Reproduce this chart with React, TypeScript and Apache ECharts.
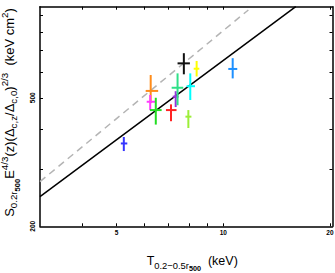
import React, { useEffect, useRef } from "react";
import * as echarts from "echarts";

// Cluster measurements: temperature (keV) and scaled entropy (keV cm^2)
const clusterColors = [
  "#3535ff", "#ff8c1a", "#ff3cff", "#22dd22", "#ff2424", "#9933dd",
  "#30e088", "#111111", "#ffff00", "#00ffff", "#9cee38", "#1e90ff",
];
const tempKeV = [5.24, 6.24, 6.22, 6.45, 7.12, 7.34, 7.43, 7.74, 8.41, 8.07, 7.97, 10.63];
const tempLow = [5.14, 6.04, 6.08, 6.21, 6.89, 7.2, 7.15, 7.43, 8.25, 7.88, 7.82, 10.33];
const tempHigh = [5.36, 6.55, 6.44, 6.7, 7.38, 7.48, 7.71, 8.05, 8.56, 8.32, 8.13, 10.95];
const entropy = [361, 525, 486, 458, 458, 504, 537, 639, 615, 543, 437, 614];
const entropyLow = [342, 481, 458, 413, 423, 468, 474, 591, 582, 492, 403, 574];
const entropyHigh = [378, 588, 510, 500, 477, 524, 595, 687, 650, 595, 458, 663];

// Best fit (solid) and self-similar (dashed) relations
const fitT = [3.04, 16.01];
const fitS = [247, 957];
const selfSimT = [3.04, 11.77];
const selfSimS = [275, 935];

// Axis ticks / labels
const xTickValues = [4, 5, 6, 7, 8, 9, 10, 20];
const xLabelValues = [5, 10, 20];
const yTickValues = [300, 400, 500, 600, 700, 800, 900];
const yLabelValues = [200, 500];

const FONT = "Liberation Sans, Arial, Helvetica, sans-serif";

function makeRich(main: number) {
  const s = main * 0.75;
  const ss = main * 0.58;
  return {
    m: { fontSize: main, fontFamily: FONT, color: "#000" },
    s: { fontSize: s, fontFamily: FONT, color: "#000", padding: [main * 0.7, 0, 0, 0] },
    ss: { fontSize: ss, fontFamily: FONT, color: "#000", fontWeight: "bold", padding: [main * 1.2, 0, 0, 0] },
    sup: { fontSize: s, fontFamily: FONT, color: "#000", padding: [0, 0, main * 0.8, 0] },
  };
}

export default function App() {
  const ref = useRef<HTMLDivElement>(null);

  useEffect(() => {
    if (!ref.current) return;
    const chart = echarts.init(ref.current, undefined, { renderer: "svg" });

    const errData = tempKeV.map((t, i) => [
      t, entropy[i], tempLow[i], tempHigh[i], entropyLow[i], entropyHigh[i],
    ]);

    const axisLine = { show: true, lineStyle: { color: "#000", width: 1.5 } };
    const tick = (vals: number[]) => ({
      show: true, inside: true, length: 3, customValues: vals,
      lineStyle: { color: "#000", width: 1 },
    });

    const option: any = {
      animation: false,
      grid: { left: 40, right: 2.5, top: 6.7, bottom: 46.7, containLabel: false, outerBoundsMode: "none" },
      xAxis: [
        {
          type: "log", min: 3.04, max: 20.33, logBase: 10,
          axisLine, axisTick: tick(xTickValues), splitLine: { show: false }, minorTick: { show: false },
          axisLabel: {
            customValues: xLabelValues, fontSize: 6.5, fontWeight: "bold", fontFamily: FONT,
            color: "#000", margin: 3,
          },
          name: "{m|T}{s|0.2−0.5r}{ss|500}{m|  (keV)}",
          nameLocation: "middle", nameGap: 24,
          nameTextStyle: { rich: makeRich(12.5), padding: [0, 0, 0, 12] },
        },
        {
          type: "log", min: 3.04, max: 20.33, logBase: 10, position: "top",
          axisLine, axisTick: tick(xTickValues), splitLine: { show: false },
          axisLabel: { show: false },
        },
      ],
      yAxis: [
        {
          type: "log", min: 200, max: 957, logBase: 10,
          axisLine, axisTick: tick(yTickValues), splitLine: { show: false }, minorTick: { show: false },
          axisLabel: {
            customValues: yLabelValues, fontSize: 6.5, fontWeight: "bold", fontFamily: FONT,
            color: "#000", margin: 4, rotate: 90,
          },
          name:
            "{m|S}{s|0.2r}{ss|500}{m|E}{sup|4/3}{m|(z)(Δ}{s|c,z}{m|/Δ}{s|c,0}{m|)}{sup|2/3}{m|  (keV cm}{sup|2}{m|)}",
          nameLocation: "middle", nameGap: 16, nameRotate: 90,
          nameTextStyle: { rich: makeRich(13), padding: [0, 0, 0, 8] },
        },
        {
          type: "log", min: 200, max: 957, logBase: 10, position: "right",
          axisLine, axisTick: tick(yTickValues), splitLine: { show: false },
          axisLabel: { show: false },
        },
      ],
      series: [
        {
          type: "line", data: selfSimT.map((t, i) => [t, selfSimS[i]]),
          showSymbol: false, symbol: "none",
          lineStyle: { color: "#b4b4b4", width: 1.5, type: [7, 5] },
          z: 2,
        },
        {
          type: "line", data: fitT.map((t, i) => [t, fitS[i]]),
          showSymbol: false, symbol: "none",
          lineStyle: { color: "#000", width: 1.5 },
          z: 2,
        },
        {
          type: "custom",
          data: errData,
          encode: { x: 0, y: 1 },
          z: 3,
          renderItem: (params: any, api: any) => {
            const i = params.dataIndex;
            const color = clusterColors[i];
            const xl = api.coord([api.value(2), api.value(1)]);
            const xh = api.coord([api.value(3), api.value(1)]);
            const yl = api.coord([api.value(0), api.value(4)]);
            const yh = api.coord([api.value(0), api.value(5)]);
            return {
              type: "group",
              children: [
                { type: "line", shape: { x1: xl[0], y1: xl[1], x2: xh[0], y2: xh[1] }, style: { stroke: color, lineWidth: 2 } },
                { type: "line", shape: { x1: yl[0], y1: yl[1], x2: yh[0], y2: yh[1] }, style: { stroke: color, lineWidth: 2 } },
              ],
            };
          },
        },
      ],
    };

    chart.setOption(option);
    return () => chart.dispose();
  }, []);

  return (
    <div
      ref={ref}
      style={{ position: "fixed", left: 0, top: 0, width: 335, height: 273, background: "#fff" }}
    />
  );
}
